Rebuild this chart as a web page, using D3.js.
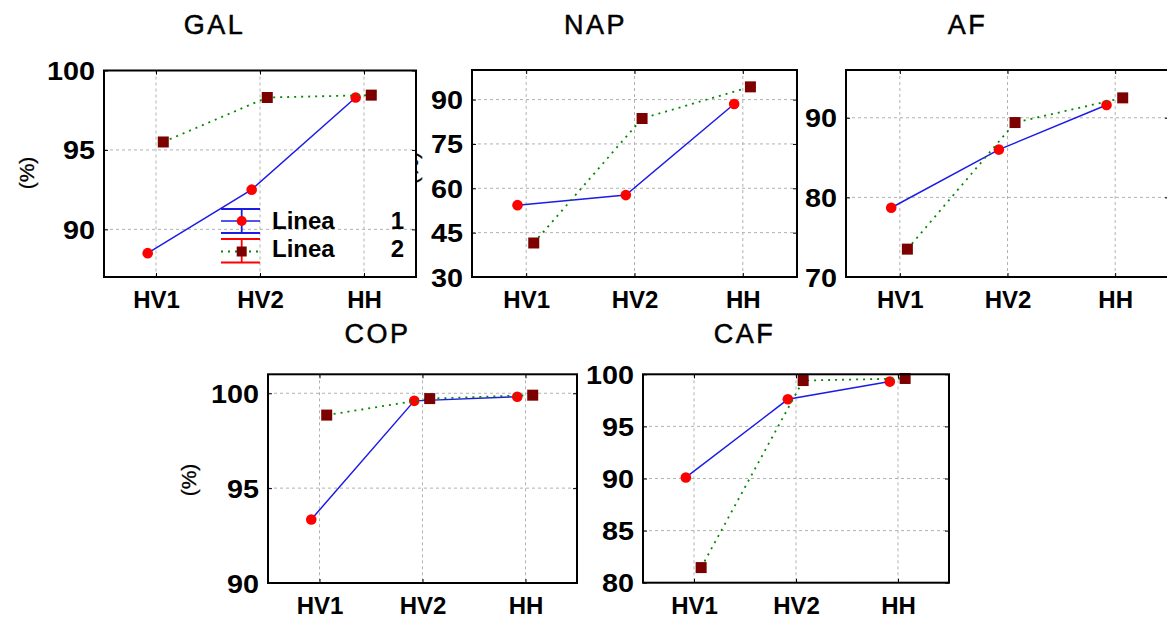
<!DOCTYPE html>
<html><head><meta charset="utf-8">
<script src="https://cdn.jsdelivr.net/npm/d3@7"></script>
<style>html,body{margin:0;padding:0;background:#fff;overflow:hidden}</style>
</head><body><svg id="c" width="1167" height="622"></svg>
<script>
// ---- data ----
const categories = ["HV1", "HV2", "HH"];
const panelNames = ["GAL", "NAP", "AF", "COP", "CAF"];
const linea1 = [
  [88.5, 92.5, 98.3],
  [54.3, 57.7, 88.5],
  [78.7, 86.0, 91.6],
  [93.35, 99.6, 99.82],
  [90.1, 97.6, 99.3]
];
const linea2 = [
  [95.5, 98.3, 98.45],
  [41.5, 83.6, 94.3],
  [73.5, 89.4, 92.5],
  [98.85, 99.72, 99.9],
  [81.45, 99.4, 99.6]
];
const yTicks = [
  [90, 95, 100],
  [30, 45, 60, 75, 90],
  [70, 80, 90],
  [90, 95, 100],
  [80, 85, 90, 95, 100]
];
const yDomains = [[87, 100], [30, 100], [70, 96], [90, 101], [80, 100]];
const seriesNames = ["Linea", "Linea"];
const seriesNums = ["1", "2"];
const yLabelText = "(%)";

// ---- layout (pixels) ----
const layout = [
  {x0:104, x1:416, y0:70.5, y1:277, tx:213, ty:33.5, yl:{x:33.6, y:173}},
  {x0:472, x1:797, y0:70, y1:277, tx:594, ty:33.5, yl:{x:417.6, y:168}},
  {x0:846, x1:1169, y0:70, y1:277, tx:966, ty:33.5, yl:null},
  {x0:268, x1:577, y0:374.3, y1:583, tx:376, ty:343, yl:{x:195.6, y:480}},
  {x0:643, x1:949, y0:374.3, y1:582.7, tx:743, ty:343, yl:null}
];
const FONT = "'Liberation Sans', Arial, sans-serif";
const BLUE = "#1c1ce6", RED = "#ff0000", DARKRED = "#7d0000", GREEN = "#008a00";
const OFF1 = -0.08, OFF2 = 0.07;

const svg = d3.select("#c");

// y labels first (partly hidden by neighbouring axes backgrounds)
layout.forEach((L) => {
  if (!L.yl) return;
  svg.append("text")
    .attr("transform", `translate(${L.yl.x},${L.yl.y}) rotate(-90)`)
    .attr("text-anchor", "middle")
    .attr("font-family", FONT).attr("font-size", 21)
    .attr("stroke", "#000").attr("stroke-width", 0.3)
    .text(yLabelText);
});

panelNames.forEach((name, p) => {
  const L = layout[p];
  const g = svg.append("g");
  const x = d3.scalePoint().domain(categories).range([L.x0, L.x1]).padding(0.5);
  const step = x.step();
  const y = d3.scaleLinear().domain(yDomains[p]).range([L.y1, L.y0]);

  // background
  g.append("rect").attr("x", L.x0).attr("y", L.y0)
    .attr("width", L.x1 - L.x0).attr("height", L.y1 - L.y0).attr("fill", "#fff");

  // grid
  const grid = g.append("g").attr("stroke", "#b2b2b2").attr("stroke-width", 1)
    .attr("stroke-dasharray", "3,3");
  categories.forEach(c => grid.append("line")
    .attr("x1", x(c)).attr("x2", x(c)).attr("y1", L.y0).attr("y2", L.y1));
  yTicks[p].forEach(v => grid.append("line")
    .attr("x1", L.x0).attr("x2", L.x1).attr("y1", y(v)).attr("y2", y(v)));

  // series
  const pts1 = categories.map((c, i) => [x(c) + OFF1 * step, y(linea1[p][i])]);
  const pts2 = categories.map((c, i) => [x(c) + OFF2 * step, y(linea2[p][i])]);
  const line = d3.line();
  g.append("path").attr("d", line(pts1)).attr("fill", "none")
    .attr("stroke", BLUE).attr("stroke-width", 1.5);
  g.selectAll(".m1").data(pts1).enter().append("circle")
    .attr("cx", d => d[0]).attr("cy", d => d[1]).attr("r", 5.3).attr("fill", RED);
  g.append("path").attr("d", line(pts2)).attr("fill", "none")
    .attr("stroke", GREEN).attr("stroke-width", 1.8).attr("stroke-dasharray", "2,5");
  g.selectAll(".m2").data(pts2).enter().append("rect")
    .attr("x", d => d[0] - 5.5).attr("y", d => d[1] - 5.5)
    .attr("width", 11).attr("height", 11).attr("fill", DARKRED);

  // axes
  const ya = g.append("g").attr("transform", `translate(${L.x0},0)`)
    .call(d3.axisLeft(y).tickValues(yTicks[p]).tickSize(-4).tickPadding(9));
  ya.select(".domain").remove();
  ya.selectAll("line").attr("stroke", "#000");
  ya.selectAll("text").attr("font-family", FONT).attr("font-size", 25)
    .attr("font-weight", "bold").attr("fill", "#000").attr("dy", "0.36em")
    .attr("textLength", function(){ return this.textContent.length * 16; })
    .attr("lengthAdjust", "spacingAndGlyphs");

  const yr = g.append("g").attr("transform", `translate(${L.x1},0)`)
    .call(d3.axisRight(y).tickValues(yTicks[p]).tickSize(-4).tickFormat(""));
  yr.select(".domain").remove(); yr.selectAll("line").attr("stroke", "#000");

  const xa = g.append("g").attr("transform", `translate(0,${L.y1})`)
    .call(d3.axisBottom(x).tickSize(-4));
  xa.select(".domain").remove();
  xa.selectAll("line").attr("stroke", "#000");
  xa.selectAll("text").attr("font-family", FONT).attr("font-size", 24)
    .attr("font-weight", "bold").attr("fill", "#000").attr("y", 31).attr("dy", 0);

  const xt = g.append("g").attr("transform", `translate(0,${L.y0})`)
    .call(d3.axisTop(x).tickSize(-4).tickFormat(""));
  xt.select(".domain").remove(); xt.selectAll("line").attr("stroke", "#000");

  // box
  g.append("rect").attr("x", L.x0).attr("y", L.y0)
    .attr("width", L.x1 - L.x0).attr("height", L.y1 - L.y0)
    .attr("fill", "none").attr("stroke", "#000").attr("stroke-width", 2);

  // title
  svg.append("text").attr("x", L.tx + 1.5).attr("y", L.ty)
    .attr("text-anchor", "middle").attr("font-family", FONT)
    .attr("font-size", 27).attr("letter-spacing", 2.5)
    .attr("stroke", "#000").attr("stroke-width", 0.5).text(name);

  // legend in the first panel
  if (p === 0) {
    const lg = g.append("g").attr("transform", `translate(${L.x0},${L.y0})`);
    const sx0 = 117, sx1 = 156, sxm = 137.7;
    // Linea 1 (error-bar style)
    const e1 = lg.append("g").attr("stroke", BLUE).attr("stroke-width", 1.8);
    [138.5, 162.5].forEach(yy => e1.append("line").attr("x1", sx0).attr("x2", sx1).attr("y1", yy).attr("y2", yy));
    e1.append("line").attr("x1", sxm).attr("x2", sxm).attr("y1", 138.5).attr("y2", 162.5);
    lg.append("line").attr("x1", sx0).attr("x2", sx1).attr("y1", 150.5).attr("y2", 150.5)
      .attr("stroke", BLUE).attr("stroke-width", 1.5);
    lg.append("circle").attr("cx", sxm).attr("cy", 150.5).attr("r", 5).attr("fill", RED);
    // Linea 2
    const e2 = lg.append("g").attr("stroke", RED).attr("stroke-width", 1.8);
    [168.5, 192].forEach(yy => e2.append("line").attr("x1", sx0).attr("x2", sx1).attr("y1", yy).attr("y2", yy));
    e2.append("line").attr("x1", sxm).attr("x2", sxm).attr("y1", 168.5).attr("y2", 192);
    lg.append("line").attr("x1", sx0).attr("x2", sx1).attr("y1", 181).attr("y2", 181)
      .attr("stroke", GREEN).attr("stroke-width", 1.8).attr("stroke-dasharray", "2,5");
    lg.append("rect").attr("x", sxm - 5).attr("y", 176).attr("width", 10).attr("height", 10).attr("fill", DARKRED);
    seriesNames.forEach((s, i) => {
      const by = 158 + i * 28.4;
      lg.append("text").attr("x", 168).attr("y", by).attr("font-family", FONT)
        .attr("font-size", 24).attr("font-weight", "bold").text(s);
      lg.append("text").attr("x", 300).attr("y", by).attr("text-anchor", "end")
        .attr("font-family", FONT).attr("font-size", 24).attr("font-weight", "bold").text(seriesNums[i]);
    });
  }
});
</script>
</body></html>
